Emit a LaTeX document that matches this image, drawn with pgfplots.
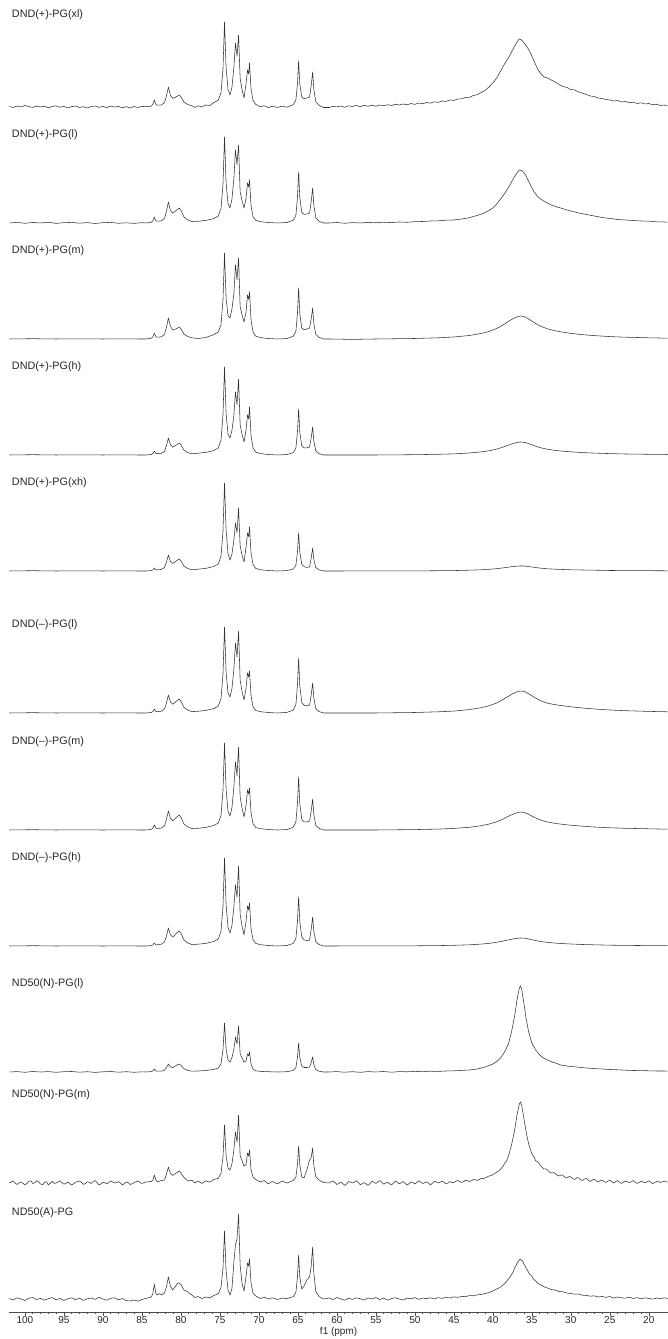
\documentclass[border=0pt]{standalone}
\usepackage{fontspec}
\setmainfont{Liberation Sans}
\usepackage{pgfplots}
\pgfplotsset{compat=1.18}
\begin{document}
\begin{tikzpicture}
\pgfplotsset{spec/.style={color=black!80, line width=0.55pt, line join=round, mark=none}}
\begin{axis}[
  scale only axis,
  width=658.6pt, height=1312pt,
  xmin=17.55, xmax=102, ymin=0, ymax=1312,
  x dir=reverse,
  axis x line*=bottom, axis y line=none,
  xtick={20,25,...,100},
  minor x tick num=4,
  tick align=outside,
  major tick length=3.5pt, minor tick length=2pt,
  /pgf/number format/assume math mode=true,
  ticklabel style={font=\fontsize{10}{12}\selectfont, text=black!85},
  xticklabel style={inner sep=0pt, anchor=north, yshift=-1pt},
  xlabel={f1 (ppm)},
  xlabel style={font=\fontsize{10}{12}\selectfont, text=black!85, inner sep=0pt, anchor=north, at={(axis description cs:0.5,0)}, yshift=-15pt},
  axis line style={black!70, line width=0.6pt},
  every tick/.style={black!70, line width=0.5pt},
  clip=false,
]
% ---------------- S1 DND(+)-PG(xl)
\addplot[spec, y filter/.expression={y+1205}] coordinates {
(102,0.5) (101.5,-0.5) (101,1) (100.5,0) (100,1.5) (99.5,0.5) (99,-0.5) (98.5,1) (98,0) (97.5,0.8) (97,-0.8) (96.5,0.5) (96,1.2) (95.5,-0.3) (95,0.6) (94.5,-1) (94,0.4) (93.5,1) (93,-0.5) (92.5,0.3) (92,-1) (91.5,0.5) (91,1) (90.5,-0.4) (90,0.6) (89.5,-0.6) (89,0.9) (88.5,-0.2) (88,0.7) (87.5,-0.8) (87,0.3) (86.5,-1) (86,0.5) (85.5,-0.5) (85,0.6)
(84.5,0.3) (83.8,0.8) (83.6,2.5) (83.4,7) (83.2,2.5) (83.0,1.8) (82.5,2) (82.1,4.4) (81.85,11) (81.6,20) (81.35,12.2) (81.05,8.6) (80.75,9.6) (80.45,10.8) (80.2,12) (79.95,9.6) (79.6,4.8) (79.1,2.4) (78.6,1.2) (78.2,-0.5) (77.8,1.2) (77.3,0) (76.8,2) (76.3,1.5) (75.8,4.3) (75.2,6.8) (74.85,14.5) (74.6,38) (74.4,85) (74.2,39.5) (73.95,17.4) (73.7,12) (73.45,19.7) (73.2,39.6) (73.0,64) (72.8,51) (72.6,72) (72.4,28.8) (72.15,17.1) (71.9,9) (71.65,22.9) (71.45,37) (71.3,33) (71.2,44) (71.0,17.6) (70.75,6.6) (70.4,2.6) (69.8,0.3) (69.3,1.2) (68.8,-0.6) (68.3,0.8) (67.6,-0.5) (67,0.9) (66.4,-0.2) (66,1) (65.6,2.3) (65.25,6.9) (65.05,23) (64.9,46) (64.75,23) (64.5,9.9) (64.2,8.3) (63.85,9) (63.5,10) (63.3,20.8) (63.1,35) (62.95,17.5) (62.7,5.3) (62.3,1.8) (61.7,-0.5)
(61,-0.5) (60.5,0.8) (60,0) (59.5,1) (59,-0.3) (58.5,1.2) (58,0.5) (57.5,1.5) (57,0.3) (56.5,1.6) (56,0.8) (55.5,1.8) (55,0.7) (54.5,2) (54,1.2) (53.5,2.3) (53,1.5) (52.5,2.8) (52,2) (51.5,3) (51,2.2) (50.5,3.5) (50,2.6) (49.5,4) (49,3.2) (48.5,4.5) (48,3.8) (47.5,5.2) (47,4.6) (46.5,6) (46,5.6) (45.5,7) (45,6.6) (44.5,8) (44,8.2) (43.5,9.5) (43,9.6) (42.5,11.5) (42,12.3) (41.5,14.5) (41,16.5) (40.5,20) (40,24) (39.5,29) (39,36) (38.5,43) (38,49) (37.6,55) (37.2,61) (36.9,65) (36.6,68) (36.3,67) (36,64) (35.6,60) (35.3,56) (35,51) (34.6,44) (34.2,37) (33.8,33) (33.4,30) (33,29) (32.5,27) (32,25) (31.5,22.5) (31,20.5) (30.5,19.5) (30,17.5) (29.5,17) (29,15) (28.5,13.8) (28,12.5) (27.5,11) (27,10.5) (26.5,9) (26,8.5) (25.5,7.5) (25,7) (24.5,6) (24,6.5) (23.5,5) (23,5.5) (22.5,4.2) (22,4.8) (21.5,3.5) (21,4.2) (20.5,3) (20,3.5) (19.5,2.2) (19,2.8) (18.5,1.5) (18,2) (17.6,1)
};
% ---------------- S2 DND(+)-PG(l)
\addplot[spec, y filter/.expression={y+1089}] coordinates {
(102,0) (101,0.6) (100,-0.3) (99,0.5) (98,0) (97,0.7) (96,-0.4) (95,0.3) (94,0.6) (93,-0.2) (92,0.4) (91,-0.5) (90,0.3) (89,0.6) (88,-0.3) (87,0.2) (86,-0.4) (85,0.3)
(84.5,0) (83.8,0.7) (83.6,2.1) (83.4,6) (83.2,2.1) (83.0,1.8) (82.5,2.1) (82.1,4.6) (81.85,11.6) (81.6,21) (81.35,13.1) (81.05,9.8) (80.75,11.5) (80.45,13.5) (80.2,15) (79.95,12) (79.6,6) (79.1,3) (78.6,1.5) (77.8,1.7) (76.8,2.6) (75.8,4.3) (75.2,6.9) (74.85,14.6) (74.6,38.7) (74.4,86) (74.2,40.2) (73.95,19.3) (73.7,15) (73.45,23.8) (73.2,44.6) (73.0,73) (72.8,58.4) (72.6,78) (72.4,31.2) (72.15,22.2) (71.9,15) (71.65,24.3) (71.45,40) (71.3,36) (71.2,43) (71.0,17.2) (70.75,6.5) (70.4,2.6) (69.8,1.3) (68.8,0.5) (67.6,0) (66.4,0.5) (65.6,2.6) (65.25,7.7) (65.05,25.5) (64.9,51) (64.75,25.5) (64.5,10.7) (64.2,8.6) (63.85,9) (63.5,10) (63.3,20.8) (63.1,35) (62.95,17.5) (62.7,5.3) (62.3,1.8) (61.7,0)
(61,0) (60,0.5) (59,-0.3) (58,0.4) (57,0) (56,0.6) (55,0.2) (54,0.8) (53,0.4) (52,1) (51,0.7) (50,1.3) (49,1.5) (48,2) (47,2.2) (46,2.8) (45,3) (44,4) (43.2,5) (42,7.5) (41.1,10) (40.5,12.5) (40,15) (39.5,19) (38.9,25) (38.3,31.5) (37.8,38) (37.4,44) (37,49) (36.6,53) (36.2,52) (35.8,48) (35.3,40) (34.7,31) (34.2,26) (33.6,22.5) (33,20) (32.5,18) (31.8,16) (31.3,15) (30.5,13) (30,12) (29,10) (28,8.5) (27,7) (26,5.5) (25,4.5) (24,3.5) (23,3) (22,2.5) (21,2) (20,1.8) (19,1.2) (18,1) (17.6,0.8)
};
% ---------------- S3 DND(+)-PG(m)
\addplot[spec, y filter/.expression={y+973}] coordinates {
(102,0) (99,0.3) (96,0) (93,0.2) (90,0) (87,0.2) (85.5,0)
(84.5,0) (83.8,0.7) (83.6,2.1) (83.4,6) (83.2,2.1) (83.0,1.8) (82.5,2.1) (82.1,4.6) (81.85,11.6) (81.6,21) (81.35,12.8) (81.05,8.9) (80.75,9.7) (80.45,10.8) (80.2,12) (79.95,9.6) (79.6,4.8) (79.1,2.4) (78.6,1.2) (77.8,0.5) (76.8,1.5) (75.8,4.3) (75.2,6.9) (74.85,14.6) (74.6,38.7) (74.4,86) (74.2,40.8) (73.95,22.9) (73.7,21) (73.45,29.9) (73.2,45.5) (73.0,74) (72.8,59.2) (72.6,81) (72.4,32.4) (72.15,24.1) (71.9,17) (71.65,26.7) (71.45,44) (71.3,39.6) (71.2,47) (71.0,18.8) (70.75,7) (70.4,2.8) (69.8,1.4) (68.8,0.5) (67.6,0) (66.4,0.5) (65.6,2.6) (65.25,7.7) (65.05,25.5) (64.9,51) (64.75,25.5) (64.5,11) (64.2,9.2) (63.85,9.9) (63.5,11) (63.3,19.5) (63.1,31) (62.95,15.5) (62.7,4.7) (62.3,1.6) (61.7,0)
(61,0) (58,-0.4) (55,0) (50,0.5) (47,1.2) (45,2) (43,3.5) (41.5,5.5) (40.5,7.5) (39.5,10.5) (38.8,13.5) (38.2,16.5) (37.6,19.5) (37,21.8) (36.5,23) (36,22.5) (35.5,20.5) (35,18) (34.4,15) (33.8,12.5) (33,10.2) (32,8.2) (31,6.8) (30,5.6) (28.5,4.3) (27,3.4) (25,2.4) (23,1.8) (20,1.2) (17.6,0.8)
};
% ---------------- S4 DND(+)-PG(h)
\addplot[spec, y filter/.expression={y+857}] coordinates {
(102,0) (99,0.3) (96,0) (93,0.2) (90,0) (87,0.2) (85.5,0)
(84.5,0) (83.8,0.5) (83.6,1.4) (83.4,4) (83.2,1.4) (83.0,1.4) (82.5,1.7) (82.1,3.7) (81.85,9.4) (81.6,17) (81.35,10.6) (81.05,7.9) (80.75,9.2) (80.45,10.8) (80.2,12) (79.95,9.6) (79.6,4.8) (79.1,2.4) (78.6,1.2) (77.8,1.8) (76.8,2.6) (75.8,4.4) (75.2,7) (74.85,15) (74.6,39.6) (74.4,88) (74.2,41.3) (73.95,20.8) (73.7,17) (73.45,24.6) (73.2,39.8) (73.0,63) (72.8,50.4) (72.6,76) (72.4,30.4) (72.15,20.5) (71.9,13) (71.65,24.8) (71.45,40) (71.3,36) (71.2,48) (71.0,19.2) (70.75,7.2) (70.4,2.9) (69.8,1.4) (68.8,0.5) (67.6,0) (66.4,0.5) (65.6,2.3) (65.25,6.9) (65.05,23) (64.9,46) (64.75,23) (64.5,9.3) (64.2,7.1) (63.85,7.2) (63.5,8) (63.3,16.6) (63.1,28) (62.95,14) (62.7,4.2) (62.3,1.4) (61.7,0)
(61,0) (55,0) (50,0.3) (47,0.7) (45,1.1) (43,2) (41.5,3.1) (40.5,4.2) (39.5,5.9) (38.8,7.6) (38.2,9.3) (37.6,11) (37,12.3) (36.5,13) (36,12.7) (35.5,11.6) (35,10.2) (34.4,8.5) (33.8,7.1) (33,5.8) (32,4.6) (31,3.8) (30,3.2) (28.5,2.4) (27,1.9) (25,1.4) (23,1) (20,0.7) (17.6,0.5)
};
% ---------------- S5 DND(+)-PG(xh)
\addplot[spec, y filter/.expression={y+741}] coordinates {
(102,0) (99,0.3) (96,0) (93,0.2) (90,0) (87,0.2) (85.5,0)
(84.5,0) (83.8,0.4) (83.6,1) (83.4,3) (83.2,1) (83.0,1.2) (82.5,1.6) (82.1,3.5) (81.85,8.8) (81.6,16) (81.35,10) (81.05,7.6) (80.75,9.1) (80.45,10.8) (80.2,12) (79.95,9.6) (79.6,4.8) (79.1,2.4) (78.6,1.2) (77.8,1.8) (76.8,2.6) (75.8,4.4) (75.2,7) (74.85,15) (74.6,39.6) (74.4,88) (74.2,40.7) (73.95,17.2) (73.7,11) (73.45,16.8) (73.2,31.1) (73.0,48) (72.8,38.4) (72.6,63) (72.4,25.2) (72.15,15.8) (71.9,9) (71.65,23.4) (71.45,38) (71.3,34.2) (71.2,44) (71.0,17.6) (70.75,6.6) (70.4,2.6) (69.8,1.3) (68.8,0.5) (67.6,0) (66.4,0.4) (65.6,1.9) (65.25,5.7) (65.05,19) (64.9,38) (64.75,19) (64.5,6.9) (64.2,4.3) (63.85,3.6) (63.5,4) (63.3,12.4) (63.1,23) (62.95,11.5) (62.7,3.5) (62.3,1.2) (61.7,0)
(61,0) (50,0.1) (45,0.4) (43,0.8) (41.5,1.2) (40.5,1.7) (39.5,2.3) (38.8,3) (38.2,3.6) (37.6,4.3) (37,4.8) (36.5,5) (36,5) (35.5,4.5) (35,4) (34.4,3.3) (33.8,2.8) (33,2.2) (32,1.8) (31,1.5) (30,1.2) (28.5,1) (27,0.8) (25,0.5) (23,0.4) (20,0.3) (17.6,0.2)
};
% ---------------- S6 DND(-)-PG(l)
\addplot[spec, y filter/.expression={y+599}] coordinates {
(102,0) (99,0.3) (96,0) (93,0.2) (90,0) (87,0.2) (85.5,0)
(84.5,0) (83.8,0.5) (83.6,1.4) (83.4,4) (83.2,1.4) (83.0,1.4) (82.5,1.8) (82.1,4) (81.85,9.9) (81.6,18) (81.35,11.3) (81.05,8.7) (80.75,10.6) (80.45,12.6) (80.2,14) (79.95,11.2) (79.6,5.6) (79.1,2.8) (78.6,1.4) (77.8,1.7) (76.8,2.6) (75.8,4.3) (75.2,6.9) (74.85,14.6) (74.6,38.7) (74.4,86) (74.2,40.3) (73.95,19.9) (73.7,16) (73.45,24.4) (73.2,43.8) (73.0,70) (72.8,56) (72.6,82) (72.4,32.8) (72.15,21.4) (71.9,13) (71.65,24.2) (71.45,40) (71.3,36) (71.2,42) (71.0,16.8) (70.75,6.3) (70.4,2.5) (69.8,1.3) (68.8,0.5) (67.6,0) (66.4,0.6) (65.6,2.8) (65.25,8.3) (65.05,27.5) (64.9,55) (64.75,27.5) (64.5,10.7) (64.2,7.6) (63.85,7.2) (63.5,8) (63.3,17.5) (63.1,30) (62.95,15) (62.7,4.5) (62.3,1.5) (61.7,0)
(61,0) (55,0) (50,0.5) (47,1.2) (45,1.9) (43,3.4) (41.5,5.3) (40.5,7.2) (39.5,10) (38.8,13) (38.2,15.8) (37.6,18.7) (37,20.9) (36.5,22) (36,21.6) (35.5,19.7) (35,17.3) (34.4,14.4) (33.8,12) (33,9.8) (32,8.3) (31,7.2) (30,6.2) (28.5,5) (27,4) (25,3) (23,2.3) (20,1.6) (17.6,1.2)
};
% ---------------- S7 DND(-)-PG(m)
\addplot[spec, y filter/.expression={y+482}] coordinates {
(102,0) (99,0.3) (96,0) (93,0.2) (90,0) (87,0.2) (85.5,0)
(84.5,0) (83.8,0.6) (83.6,1.8) (83.4,5) (83.2,1.8) (83.0,1.6) (82.5,1.9) (82.1,4.2) (81.85,10.5) (81.6,19) (81.35,12) (81.05,9.3) (80.75,11.3) (80.45,13.5) (80.2,15) (79.95,12) (79.6,6) (79.1,3) (78.6,1.5) (77.8,1.7) (76.8,2.6) (75.8,4.4) (75.2,7) (74.85,14.8) (74.6,39.2) (74.4,87) (74.2,40.6) (73.95,18.8) (73.7,14) (73.45,22.2) (73.2,43.1) (73.0,68) (72.8,54.4) (72.6,83) (72.4,33.2) (72.15,21.6) (71.9,13) (71.65,24.2) (71.45,40) (71.3,36) (71.2,42) (71.0,16.8) (70.75,6.3) (70.4,2.5) (69.8,1.3) (68.8,0.5) (67.6,0) (66.4,0.5) (65.6,2.7) (65.25,8) (65.05,26.5) (64.9,53) (64.75,26.5) (64.5,10.7) (64.2,8.1) (63.85,8.1) (63.5,9) (63.3,18.5) (63.1,31) (62.95,15.5) (62.7,4.7) (62.3,1.6) (61.7,0)
(61,0) (55,0) (50,0.4) (47,0.9) (45,1.6) (43,2.7) (41.5,4.3) (40.5,5.9) (39.5,8.2) (38.8,10.5) (38.2,12.9) (37.6,15.2) (37,17) (36.5,18) (36,17.6) (35.5,16) (35,14) (34.4,11.7) (33.8,9.8) (33,8) (32,6.6) (31,5.6) (30,4.8) (28.5,3.8) (27,3) (25,2.2) (23,1.7) (20,1.2) (17.6,0.8)
};
% ---------------- S8 DND(-)-PG(h)
\addplot[spec, y filter/.expression={y+366}] coordinates {
(102,0) (99,0.3) (96,0) (93,0.2) (90,0) (87,0.2) (85.5,0)
(84.5,0) (83.8,0.4) (83.6,1) (83.4,3) (83.2,1) (83.0,1.3) (82.5,1.8) (82.1,4) (81.85,9.9) (81.6,18) (81.35,11.4) (81.05,9) (80.75,11.2) (80.45,13.5) (80.2,15) (79.95,12) (79.6,6) (79.1,3) (78.6,1.5) (77.8,1.8) (76.8,2.6) (75.8,4.4) (75.2,7) (74.85,15) (74.6,39.6) (74.4,88) (74.2,40.9) (73.95,18.4) (73.7,13) (73.45,20.3) (73.2,39.5) (73.0,61) (72.8,48.8) (72.6,80) (72.4,32) (72.15,19.7) (71.9,11) (71.65,24.3) (71.45,40) (71.3,36) (71.2,43) (71.0,17.2) (70.75,6.5) (70.4,2.6) (69.8,1.3) (68.8,0.5) (67.6,0) (66.4,0.5) (65.6,2.5) (65.25,7.4) (65.05,24.5) (64.9,49) (64.75,24.5) (64.5,9.2) (64.2,6.1) (63.85,5.4) (63.5,6) (63.3,16) (63.1,29) (62.95,14.5) (62.7,4.4) (62.3,1.5) (61.7,0)
(61,0) (50,0.2) (47,0.4) (45,0.7) (43,1.2) (41.5,1.9) (40.5,2.6) (39.5,3.7) (38.8,4.7) (38.2,5.8) (37.6,6.8) (37,7.6) (36.5,8) (36,7.9) (35.5,7.2) (35,6.3) (34.4,5.3) (33.8,4.4) (33,3.6) (32,2.9) (31,2.4) (30,2) (28.5,1.5) (27,1.2) (25,0.8) (23,0.6) (20,0.4) (17.6,0.3)
};
% ---------------- S9 ND50(N)-PG(l)
\addplot[spec, y filter/.expression={y+240}] coordinates {
(102,0) (101,0.4) (100,-0.3) (99,0.5) (98,0) (97,0.4) (96,-0.3) (95,0.3) (94,0.5) (93,-0.2) (92,0.3) (91,-0.4) (90,0.2) (89,0.5) (88,-0.2) (87,0.3) (86,-0.3) (85,0.2)
(84.5,0) (83.8,0.4) (83.6,1) (83.4,3) (83.2,1) (83.0,0.8) (82.5,0.8) (82.1,1.8) (81.85,4.4) (81.6,8) (81.35,5.2) (81.05,4.4) (80.75,5.8) (80.45,7.2) (80.2,8) (79.95,6.4) (79.6,3.2) (79.1,1.6) (78.6,0.8) (77.8,1) (76.8,1.5) (75.8,2.5) (75.2,3.9) (74.85,8.3) (74.6,22) (74.4,49) (74.2,23) (73.95,11.9) (73.7,10) (73.45,14.2) (73.2,22.7) (73.0,35) (72.8,28) (72.6,46) (72.4,18.4) (72.15,13.9) (71.9,10) (71.65,11) (71.45,18) (71.3,16.2) (71.2,20) (71.0,8) (70.75,3) (70.4,1.2) (69.8,0.6) (68.8,0.3) (67.6,0) (66.4,0.3) (65.6,1.5) (65.25,4.4) (65.05,14.5) (64.9,29) (64.75,14.5) (64.5,5.9) (64.2,4.5) (63.85,4.5) (63.5,5) (63.3,9.3) (63.1,15) (62.95,7.5) (62.7,2.3) (62.3,0.8) (61.7,0)
(61,0) (60,0.4) (59,-0.2) (58,0.3) (57,-0.3) (56,0.4) (55,0) (54,0.5) (53,-0.2) (52,0.4) (51,0.2) (50,0.6) (49,0.3) (48,0.8) (47,0.6) (46,1) (45,1.2) (44,1.6) (43,2) (42,3) (41,5) (40,8) (39.5,10.5) (39,14) (38.5,20) (38,28) (37.6,40) (37.2,56) (36.9,72) (36.6,84) (36.45,86) (36.3,83) (36,68) (35.7,52) (35.4,40) (35,29) (34.5,22) (34,17) (33.5,14) (33,12) (32.4,10) (31.8,8.5) (31.3,7) (30.5,6) (30,5.5) (29,4.8) (28,4) (27,3.4) (26,3) (25,2.5) (24,2.2) (23,1.8) (22,1.5) (21,1.4) (20,1.2) (19,1) (18,1) (17.6,0.8)
};
% ---------------- S10 ND50(N)-PG(m)
\addplot[spec, y filter/.expression={y+129}] coordinates {
(102,0) (101.7,1.2) (101.5,2) (101.2,-0.4) (101,-1.5) (100.7,0.3) (100.5,1) (100.2,-0.6) (100,-2) (99.7,-0.2) (99.5,1.5) (99.2,2.2) (99,-0.5) (98.7,0.4) (98.5,2.5) (98.2,0.8) (98,-1) (97.7,-1.6) (97.5,0.5) (97.2,1.2) (97,-2) (96.7,0.2) (96.5,1.8) (96.2,-0.4) (96,0) (95.7,1.2) (95.5,2.2) (95.2,0.1) (95,-1.2) (94.7,-0.2) (94.5,1) (94.2,-0.8) (94,-2.2) (93.7,-0.4) (93.5,0.8) (93.2,1.5) (93,2) (92.7,0.4) (92.5,-1.5) (92.2,-0.3) (92,1.2) (91.7,0.6) (91.5,-0.5) (91.2,1.8) (91,2.4) (90.7,0) (90.5,-1.8) (90.2,-0.7) (90,0.6) (89.7,0.2) (89.5,-1) (89.2,0.8) (89,2) (88.7,0.9) (88.5,0) (88.2,0.5) (88,1.5) (87.7,-0.4) (87.5,-2) (87.2,-0.3) (87,1) (86.7,0.2) (86.5,-1.5) (86.2,-0.6) (86,0.5) (85.7,1.4) (85.5,2) (85.2,0.3) (85,-0.5)
(84.5,1) (83.8,1.5) (83.6,2.8) (83.4,8) (83.2,2.8) (83.0,1) (82.5,2.5) (82.1,3) (81.85,8.8) (81.6,16) (81.35,10) (81.05,7.6) (80.75,9.1) (80.45,10.8) (80.2,12) (79.95,9.6) (79.6,5.5) (79.1,2) (78.6,2.8) (78.2,0) (77.8,2) (77.3,-0.5) (76.8,2.2) (76.3,0.8) (75.8,3.5) (75.2,4.6) (74.85,9.9) (74.6,26.1) (74.4,58) (74.2,27.4) (73.95,14.8) (73.7,13) (73.45,19.1) (73.2,33.2) (73.0,51) (72.8,40.8) (72.6,68) (72.4,27.2) (72.15,22.1) (71.9,17) (71.65,18.3) (71.45,30) (71.3,27) (71.2,33) (71.0,13.2) (70.75,6) (70.4,3.5) (69.8,1) (69.3,2.5) (68.8,-1) (68.3,1.5) (67.6,-0.8) (67,2) (66.4,0) (66,1.2) (65.6,2.5) (65.25,5.6) (65.05,18.5) (64.9,37) (64.75,18.5) (64.5,6) (64.2,5) (63.85,13) (63.5,23) (63.3,25) (63.1,35) (62.95,17.5) (62.7,6.5) (62.3,3) (61.7,0.5)
(61,0) (60.7,1.4) (60.5,2) (60.2,0.2) (60,-1.5) (59.7,-0.3) (59.5,1) (59.2,-0.8) (59,-2.5) (58.7,-0.6) (58.5,1.5) (58.2,0.7) (58,0) (57.7,1.1) (57.5,2.2) (57.2,0.2) (57,-1.8) (56.7,-0.4) (56.5,0.5) (56.2,-1.2) (56,-2.5) (55.7,-0.2) (55.5,1.8) (55.2,0.6) (55,-0.5) (54.7,1.3) (54.5,2.5) (54.2,0.4) (54,-1.2) (53.7,0.1) (53.5,0.8) (53.2,-0.8) (53,-2) (52.7,0.2) (52.5,2) (52.2,0.6) (52,-0.8) (51.7,0.3) (51.5,1.5) (51.2,-0.5) (51,-2.2) (50.7,-0.4) (50.5,1) (50.2,0.2) (50,-1) (49.7,0.8) (49.5,2.3) (49.2,0.7) (49,-0.5) (48.7,0.4) (48.5,1.2) (48.2,-0.4) (48,-1.8) (47.7,0) (47.5,1.8) (47.2,0.9) (47,0) (46.7,1.1) (46.5,2) (46.2,0.4) (46,-1) (45.7,0.3) (45.5,1.5) (45.2,0.2) (45,0.5) (44.7,1.8) (44.5,2.5) (44.2,1.2) (44,0.5) (43.7,1.6) (43.5,2.8) (43.2,2.2) (43,1.5) (42.7,2.4) (42.5,3.5) (42.2,3.2) (42,2.5) (41.7,3.6) (41.5,4.5) (41.2,4.4) (41,5) (40.7,6.2) (40.5,7) (40.2,7.4) (40,8.5) (39.7,9.6) (39.5,11) (39.2,12.2) (39,14) (38.7,16.5) (38.5,19.5) (38.2,22.5) (38,27) (37.6,38) (37.2,53) (36.9,68) (36.6,79) (36.45,81) (36.3,78) (36,64) (35.7,50) (35.4,39) (35.2,34) (35,29) (34.7,26) (34.5,22) (34.2,21) (34,18.5) (33.7,16) (33.5,14) (33.2,14.2) (33,13) (32.7,10.8) (32.5,10) (32.2,10.4) (32,9.5) (31.7,7.6) (31.5,7) (31.2,8.2) (31,7.5) (30.7,5.4) (30.5,5) (30.2,6.5) (30,6) (29.7,4.2) (29.5,3.5) (29.2,5.4) (29,5) (28.7,3) (28.5,2.5) (28.2,4.2) (28,4.5) (27.7,2.6) (27.5,1.5) (27.2,3.2) (27,3.8) (26.7,2) (26.5,1.2) (26.2,2.4) (26,3) (25.7,1.4) (25.5,0.5) (25.2,2.1) (25,2.8) (24.7,1) (24.5,0) (24.2,1.6) (24,2.5) (23.7,0.4) (23.5,-0.5) (23.2,1.2) (23,2) (22.7,1.1) (22.5,0.3) (22.2,1.5) (22,2.4) (21.7,0.6) (21.5,-0.5) (21.2,0.8) (21,1.8) (20.7,0.9) (20.5,0) (20.2,1.3) (20,2.2) (19.7,0.4) (19.5,-0.6) (19.2,0.6) (19,1.5) (18.7,1.2) (18.5,0.5) (18.2,1.4) (18,2) (17.6,0.8)
};
% ---------------- S11 ND50(A)-PG
\addplot[spec, y filter/.expression={y+13}] coordinates {
(102,0.5) (101.5,-1) (101,1.2) (100.5,0) (100,-1.5) (99.5,0.8) (99,1.5) (98.5,-0.5) (98,0.6) (97.5,-1.2) (97,0.3) (96.5,1.4) (96,-0.8) (95.5,0.5) (95,-1.5) (94.5,0.2) (94,1.2) (93.5,-0.6) (93,0.9) (92.5,-1.4) (92,0.2) (91.5,1) (91,-0.4) (90.5,1.6) (90,0) (89.5,-1.2) (89,0.6) (88.5,1.2) (88,-0.8) (87.5,0.4) (87,-1.6) (86.5,-2) (86,-1) (85.5,-2.2) (85,-0.5)
(84.5,0.5) (83.8,2) (83.6,5.2) (83.4,15) (83.2,5.2) (83.0,4) (82.75,5.5) (82.5,4) (82.1,6) (81.85,12) (81.6,22) (81.35,13) (81.05,9) (80.75,12) (80.45,15.5) (80.2,16) (79.95,14) (79.6,9) (79.1,7) (78.6,4) (78.2,1.5) (77.8,2.5) (77.3,0.5) (76.8,2) (76.3,1.2) (75.8,3.4) (75.2,5.4) (74.85,11.6) (74.6,30.6) (74.4,68) (74.2,28) (73.95,9) (73.7,4) (73.45,10.5) (73.2,37.1) (73.0,54) (72.8,60) (72.6,85) (72.4,34) (72.15,15) (71.9,8) (71.65,22) (71.45,36) (71.3,33) (71.2,40) (71.0,16) (70.75,6) (70.4,3) (69.8,0.5) (69.3,1.8) (68.8,0) (68.3,1.2) (67.6,-0.5) (67,1) (66.4,0.2) (66,1.5) (65.6,2.2) (65.25,6.6) (65.05,22) (64.9,44) (64.75,22) (64.5,10) (64.2,13) (63.85,19) (63.5,22) (63.3,32) (63.1,52) (62.95,26) (62.7,7.8) (62.3,2.6) (61.7,0)
(61,1) (60.5,-0.5) (60,1.5) (59.5,0) (59,-1.2) (58.5,0.8) (58,-0.4) (57.5,1.2) (57,0.2) (56.5,-1) (56,1) (55.5,0) (55,1.5) (54.5,-0.5) (54,0.8) (53.5,-1.2) (53,0.4) (52.5,1.3) (52,0) (51.5,-1) (51,0.9) (50.5,0.2) (50,1.4) (49.5,-0.4) (49,1) (48.5,0.3) (48,1.2) (47.5,0) (47,1.4) (46.5,0.6) (46,1.8) (45.5,1) (45,2.2) (44.5,1.6) (44,2.6) (43.5,2.4) (43,3.4) (42.5,3.2) (42,4.2) (41.5,4.5) (41,5.4) (40.5,6.4) (40,8) (39.5,10) (39,12) (38.6,14.5) (38.3,17) (38,20) (37.7,23) (37.4,27) (37.2,31) (37,34) (36.8,37) (36.5,40) (36.2,38) (36,35) (35.8,32) (35.5,28) (35.3,25) (35,23) (34.8,20) (34.5,18) (34.2,15.5) (33.8,14) (33.5,12.5) (33,11) (32.5,9.5) (32,9) (31.5,7.5) (31,7.2) (30.5,6) (30,5.5) (29.5,4.8) (29,5) (28.5,3.8) (28,3.6) (27.5,2.8) (27,3.2) (26.5,2) (26,2.6) (25.5,1.6) (25,2.5) (24.5,1) (24,2) (23.5,1.2) (23,0.8) (22.5,1.8) (22,0.5) (21.5,1.4) (21,0.2) (20.5,1.2) (20,0.6) (19.5,-0.2) (19,1) (18.5,0.4) (18,1.2) (17.6,0.5)
};
% labels
\begin{scope}[every node/.style={anchor=west, inner sep=0pt, font=\fontsize{10.8}{13}\selectfont, text=black!85, xshift=2.5pt}]
\node at (axis cs:102,1297) {DND(+)-PG(xl)};
\node at (axis cs:102,1177) {DND(+)-PG(l)};
\node at (axis cs:102,1061) {DND(+)-PG(m)};
\node at (axis cs:102,945) {DND(+)-PG(h)};
\node at (axis cs:102,829) {DND(+)-PG(xh)};
\node at (axis cs:102,687) {DND(–)-PG(l)};
\node at (axis cs:102,570) {DND(–)-PG(m)};
\node at (axis cs:102,454) {DND(–)-PG(h)};
\node at (axis cs:102,328) {ND50(N)-PG(l)};
\node at (axis cs:102,217) {ND50(N)-PG(m)};
\node at (axis cs:102,99) {ND50(A)-PG};
\end{scope}
\end{axis}
\pgfresetboundingbox
\path[use as bounding box] ([xshift=-9.3pt]current axis.north west) rectangle ([yshift=-27pt]current axis.south east);
\end{tikzpicture}
\end{document}
